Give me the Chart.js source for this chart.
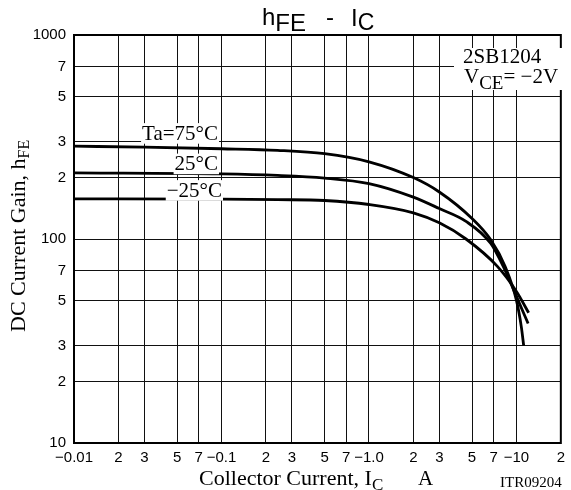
<!DOCTYPE html>
<html>
<head>
<meta charset="utf-8">
<script src="https://cdn.jsdelivr.net/npm/chart.js@4/dist/chart.umd.min.js"></script>
<style>
  body { margin: 0; background: #fff; }
  #wrap { width: 571px; height: 490px; }
</style>
</head>
<body>
<div id="wrap"><canvas id="hfe-chart"></canvas></div>
<script>
// axis ticks
const xTicks = [0.01, 0.02, 0.03, 0.05, 0.07, 0.1, 0.2, 0.3, 0.5, 0.7, 1, 2, 3, 5, 7, 10, 20];
const xTickLabels = ["\u22120.01", "2", "3", "5", "7", "\u22120.1", "2", "3", "5", "7", "\u22121.0", "2", "3", "5", "7", "\u221210", "2"];
const yTicks = [10, 20, 30, 50, 70, 100, 200, 300, 500, 700, 1000];
const yTickLabels = ["10", "2", "3", "5", "7", "100", "2", "3", "5", "7", "1000"];

// curves (Ic in A, magnitude)
const ic75  = [0.01, 0.03, 0.1, 0.24, 0.5, 1, 2, 3, 5, 6.7, 8.4, 10, 10.8, 11.2];
const hfe75 = [285, 282, 277, 272, 262, 239, 200, 170, 126, 99, 73, 50, 37, 30];
const ic25  = [0.01, 0.1, 0.24, 0.5, 1, 2, 3, 4.55, 6.7, 8.2, 10, 12];
const hfe25 = [211, 208.5, 205, 199, 187, 160.5, 141, 122, 95, 72.5, 52.3, 38.5];
const icM25  = [0.01, 0.1, 0.24, 0.5, 1, 2, 3, 4.55, 7.4, 10, 12.1];
const hfeM25 = [157.4, 157, 156, 154.4, 147.6, 134.4, 120, 100, 73.6, 55.3, 43.5];

const seriesNames = ["Ta=75\u00b0C", "25\u00b0C", "\u221225\u00b0C"];

const serif = '"Liberation Serif", "Times New Roman", serif';
const sans = '"Liberation Sans", Arial, sans-serif';

function pairs(xs, ys) {
  return xs.map((x, i) => ({ x: x, y: ys[i] }));
}

function curve(name, xs, ys) {
  return {
    label: name,
    data: pairs(xs, ys),
    borderColor: "#000",
    borderWidth: 2.8,
    pointRadius: 0,
    fill: false,
    cubicInterpolationMode: "monotone"
  };
}

// draw a run of text pieces [text, size, dy] from x on baseline y
function runs(ctx, parts, x, y, family) {
  parts.forEach(p => {
    ctx.font = p[1] + "px " + family;
    ctx.fillText(p[0], x, y + (p[2] || 0));
    x += ctx.measureText(p[0]).width;
  });
  return x;
}

function boxedText(ctx, text, xRight, y, size) {
  ctx.font = size + "px " + serif;
  const w = ctx.measureText(text).width;
  ctx.fillStyle = "#fff";
  ctx.fillRect(xRight - w - 1, y - size * 0.78, w + 2, size * 0.98);
  ctx.fillStyle = "#000";
  ctx.textAlign = "left";
  ctx.fillText(text, xRight - w, y);
}

const textPlugin = {
  id: "texts",
  afterDatasetsDraw(chart) {
    const ctx = chart.ctx;
    const a = chart.chartArea;
    ctx.save();
    ctx.strokeStyle = "#000";
    ctx.lineWidth = 2;
    ctx.strokeRect(a.left, a.top, a.right - a.left, a.bottom - a.top);

    ctx.fillStyle = "#000";
    ctx.textAlign = "left";
    ctx.textBaseline = "alphabetic";

    // title
    runs(ctx, [["h", 24, 0], ["FE", 24, 6]], 262, 25, sans);
    ctx.font = "24px " + sans;
    ctx.fillText("-", 326, 25);
    runs(ctx, [["I", 24, 1], ["C", 23, 5]], 351, 25, sans);

    // temperature labels
    boxedText(ctx, seriesNames[0], 218, 139.5, 21);
    boxedText(ctx, seriesNames[1], 218, 170, 21);
    boxedText(ctx, seriesNames[2], 222, 196.5, 21);

    // part box
    ctx.fillStyle = "#fff";
    ctx.fillRect(454, 48, 110, 42);
    ctx.fillStyle = "#000";
    ctx.font = "21px " + serif;
    ctx.fillText("2SB1204", 463, 63);
    runs(ctx, [["V", 21, 0], ["CE", 19, 6], ["= \u22122V", 21, 0]], 464, 83, serif);

    // x axis title
    runs(ctx, [["Collector Current, I", 22, 0], ["C", 17, 5]], 199, 485, serif);
    ctx.font = "21px " + serif;
    ctx.fillText("A", 418, 485);
    ctx.font = "15px " + serif;
    ctx.fillText("ITR09204", 500, 487);

    // y axis title
    ctx.translate(25, 332);
    ctx.rotate(-Math.PI / 2);
    runs(ctx, [["DC Current Gain, h", 22, 0], ["FE", 16, 4]], 0, 0, serif);
    ctx.restore();
  }
};

new Chart(document.getElementById("hfe-chart"), {
  type: "line",
  data: {
    datasets: [
      curve(seriesNames[0], ic75, hfe75),
      curve(seriesNames[1], ic25, hfe25),
      curve(seriesNames[2], icM25, hfeM25)
    ]
  },
  options: {
    responsive: true,
    maintainAspectRatio: false,
    animation: false,
    layout: { padding: { top: 35, right: 6, left: 0, bottom: 0 } },
    plugins: {
      legend: { display: false },
      tooltip: { enabled: false },
      title: { display: false }
    },
    scales: {
      x: {
        type: "logarithmic",
        min: 0.01,
        max: 20,
        afterBuildTicks: s => { s.ticks = xTicks.map(v => ({ value: v })); },
        afterFit: s => { s.height = 47; },
        grid: { color: "#111", lineWidth: 1, drawTicks: false },
        border: { color: "#000", width: 2 },
        ticks: {
          autoSkip: false,
          maxRotation: 0,
          padding: 6,
          color: "#000",
          font: { family: sans, size: 15 },
          callback: (v, i) => xTickLabels[i]
        }
      },
      y: {
        type: "logarithmic",
        min: 10,
        max: 1000,
        afterBuildTicks: s => { s.ticks = yTicks.map(v => ({ value: v })); },
        afterFit: s => { s.width = 74; },
        grid: { color: "#111", lineWidth: 1, drawTicks: false },
        border: { color: "#000", width: 2 },
        ticks: {
          autoSkip: false,
          padding: 8,
          color: "#000",
          font: { family: sans, size: 15 },
          callback: (v, i) => yTickLabels[i]
        }
      }
    }
  },
  plugins: [textPlugin]
});
</script>
</body>
</html>
